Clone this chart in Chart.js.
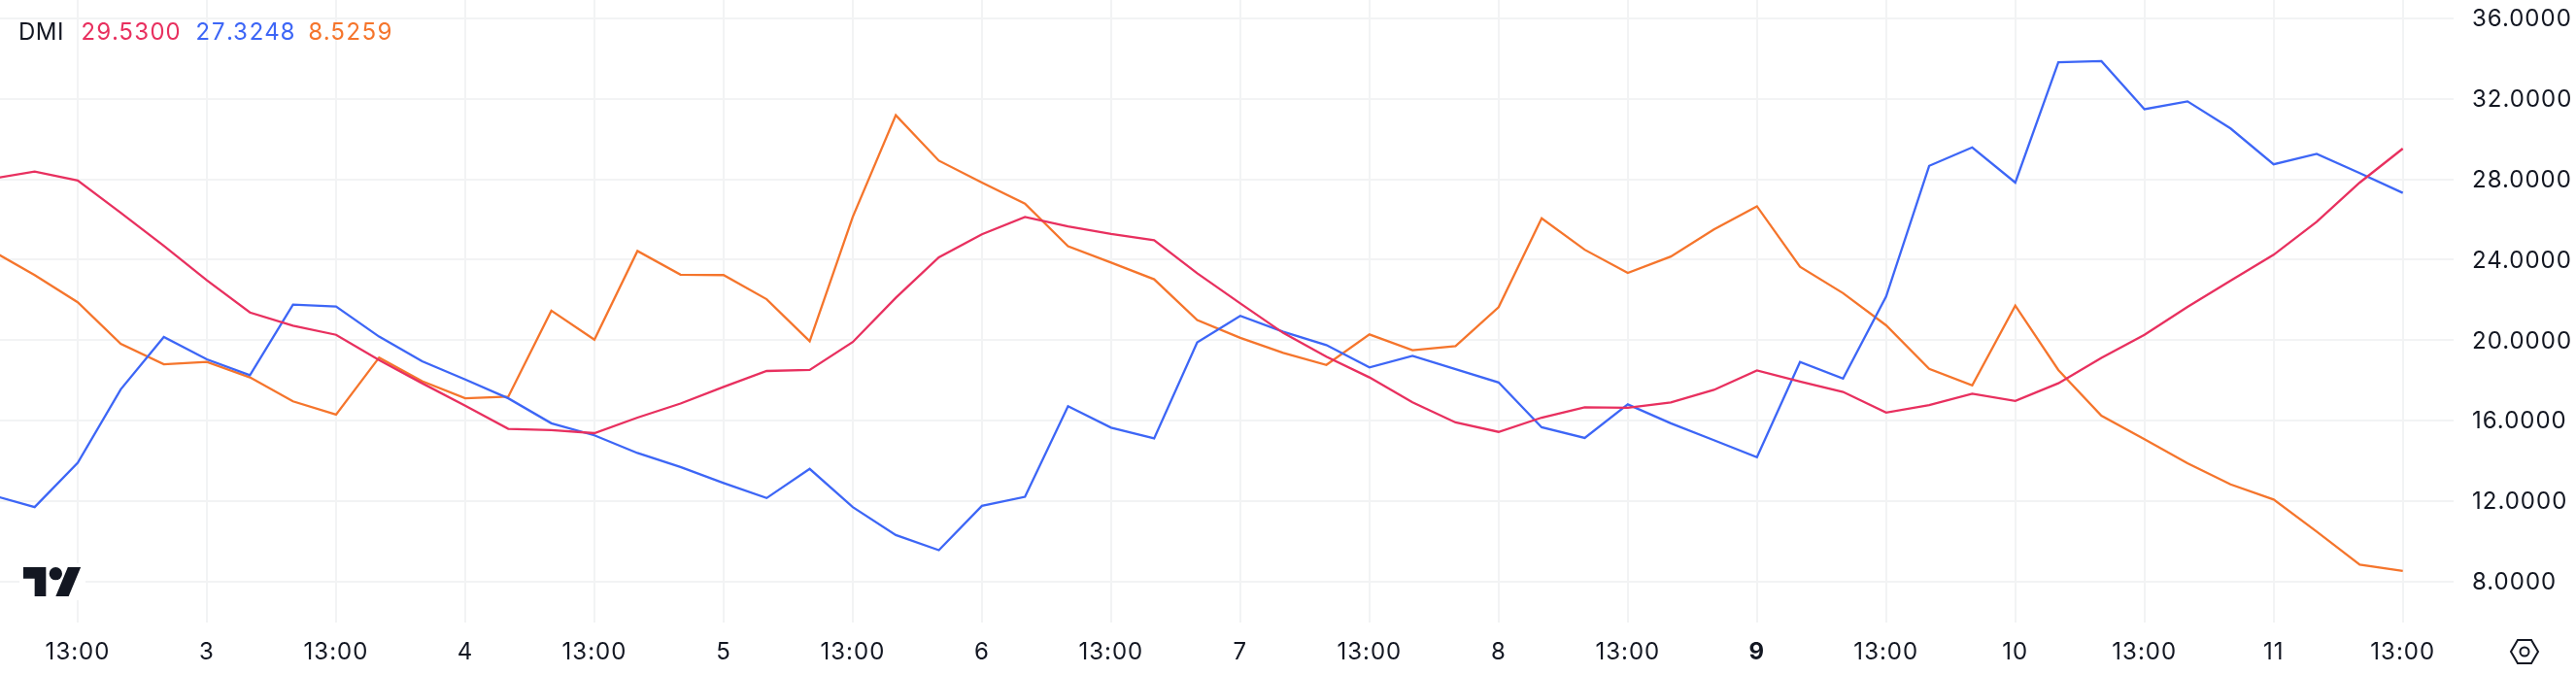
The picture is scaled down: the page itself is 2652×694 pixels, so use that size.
<!DOCTYPE html>
<html>
<head>
<meta charset="utf-8">
<title>DMI</title>
<script src="https://cdn.jsdelivr.net/npm/chart.js@4"></script>
<style>
html,body{margin:0;padding:0;background:#fff;overflow:hidden;}
#wrap{position:relative;width:2652px;height:694px;font-family:Inter,sans-serif;}
#legend{position:absolute;left:19px;top:18px;font-size:24px;line-height:30px;font-variant-numeric:tabular-nums;letter-spacing:.5px;white-space:nowrap;color:#131722;}
#legend span{position:absolute;top:0;}
#logo{position:absolute;left:20px;top:580px;width:68px;height:38px;background:#fff;}
#logo svg{position:absolute;left:4px;top:4px;}
#gear{position:absolute;left:2582px;top:654px;}
</style>
</head>
<body>
<div id="wrap">
<canvas id="dmiChart" width="2652" height="694"></canvas>
<div id="legend"></div>
<div id="logo"><svg width="60" height="30" viewBox="0 4 36 18"><path fill="#131722" d="M14 22H7V11H0V4h14v18zM28 22h-8l7.5-18h8L28 22z"/><circle fill="#131722" cx="20" cy="8" r="4"/></svg></div>
<svg id="gear" width="34" height="34" viewBox="0 0 34 34"><path fill="none" stroke="#131722" stroke-width="2" d="M10 5h14l7 12-7 12H10L3 17z"/><circle fill="none" stroke="#131722" stroke-width="2" cx="17" cy="17" r="4.5"/></svg>
</div>
<script>
/* -------- DATA -------- */

const tickLabels = ["13:00","3","13:00","4","13:00","5","13:00","6","13:00","7","13:00","8","13:00","9","13:00","10","13:00","11","13:00"];

const redValues = [28.03,28.39,27.94,26.34,24.69,22.98,21.38,20.72,20.27,19.01,17.86,16.74,15.59,15.53,15.38,16.15,16.85,17.68,18.47,18.52,19.91,22.11,24.12,25.27,26.13,25.66,25.29,24.97,23.33,21.83,20.36,19.18,18.15,16.91,15.91,15.44,16.15,16.66,16.64,16.91,17.53,18.50,17.94,17.43,16.40,16.77,17.34,16.98,17.86,19.12,20.27,21.66,22.96,24.25,25.89,27.84,29.53];

const blueValues = [12.30,11.70,13.90,17.56,20.16,19.05,18.26,21.77,21.68,20.18,18.95,18.05,17.11,15.87,15.27,14.39,13.69,12.90,12.15,13.60,11.70,10.31,9.56,11.76,12.21,16.72,15.65,15.12,19.89,21.21,20.42,19.76,18.65,19.22,18.56,17.90,15.67,15.14,16.81,15.87,15.03,14.18,18.92,18.09,22.17,28.67,29.59,27.84,33.82,33.88,31.49,31.88,30.53,28.75,29.27,28.31,27.3248];

const orangeValues = [24.46,23.24,21.89,19.82,18.80,18.92,18.15,16.96,16.30,19.14,17.96,17.11,17.19,21.47,20.03,24.44,23.26,23.24,22.04,19.95,26.13,31.19,28.93,27.84,26.79,24.67,23.86,23.03,21.00,20.12,19.37,18.77,20.29,19.50,19.71,21.64,26.06,24.50,23.35,24.16,25.51,26.66,23.65,22.34,20.74,18.58,17.75,21.72,18.52,16.25,15.08,13.88,12.83,12.08,10.48,8.84,8.5259];

const RED = "#E8305F";
const BLUE = "#3D66F6";
const ORANGE = "#F5752C";
const TEXT = "#131722";
const GRID = "#F2F3F4";
const FONT = "Inter, sans-serif";

/* two bars sit left of the first 13:00 tick */
function toPoints(values){
return values.map((v,i)=>({x:i-2,y:v}));
}

function lineSet(label,values,color){
return {
label:label,
data:toPoints(values),
borderColor:color,
borderWidth:2.3,
pointRadius:0,
tension:0,
fill:false
};
}

/* -------- LEGEND -------- */

const legend = document.getElementById("legend");
const legendItems = [
{text:"DMI",color:TEXT,left:0},
{text:redValues[redValues.length-1].toFixed(4),color:RED,left:64},
{text:blueValues[blueValues.length-1].toFixed(4),color:BLUE,left:182},
{text:orangeValues[orangeValues.length-1].toFixed(4),color:ORANGE,left:298}
];

legendItems.forEach(item=>{
let s=document.createElement("span");
s.innerText=item.text;
s.style.color=item.color;
s.style.left=item.left+"px";
legend.appendChild(s);
});

/* -------- CHART -------- */

const spacing = {
id:"spacing",
beforeDraw(chart){
chart.ctx.letterSpacing="1px";
}
};

/* axis box sizes are fixed, labels must not push the plot area */
function fixBox(scale,prop,size){
scale[prop]=size;
scale.paddingTop=0;
scale.paddingBottom=0;
scale.paddingLeft=0;
scale.paddingRight=0;
}

new Chart(document.getElementById("dmiChart"),{
type:"line",
plugins:[spacing],
data:{
datasets:[
lineSet("ADX",redValues,RED),
lineSet("+DI",blueValues,BLUE),
lineSet("-DI",orangeValues,ORANGE)
]
},
options:{
responsive:false,
animation:false,
events:[],
layout:{padding:0},
plugins:{legend:{display:false},tooltip:{enabled:false}},
scales:{
x:{
type:"linear",
min:-1.805,
max:55.18,
afterFit:scale=>fixBox(scale,"height",53),
border:{display:false},
grid:{color:GRID,lineWidth:2,drawTicks:false},
ticks:{
stepSize:3,
includeBounds:false,
maxRotation:0,
autoSkip:false,
padding:16,
color:TEXT,
font:c=>({family:FONT,size:24,weight:c.tick&&tickLabels[c.tick.value/3]==="9"?"bold":"normal"}),
callback:v=>tickLabels[v/3]
}
},
y:{
position:"right",
min:5.96,
max:36.92,
afterFit:scale=>fixBox(scale,"width",126),
border:{display:false},
grid:{color:GRID,lineWidth:2,drawTicks:false},
ticks:{
stepSize:4,
includeBounds:false,
padding:19,
labelOffset:1,
color:TEXT,
font:{family:FONT,size:24},
callback:v=>v.toFixed(4)
}
}
}
}
});
</script>
</body>
</html>
